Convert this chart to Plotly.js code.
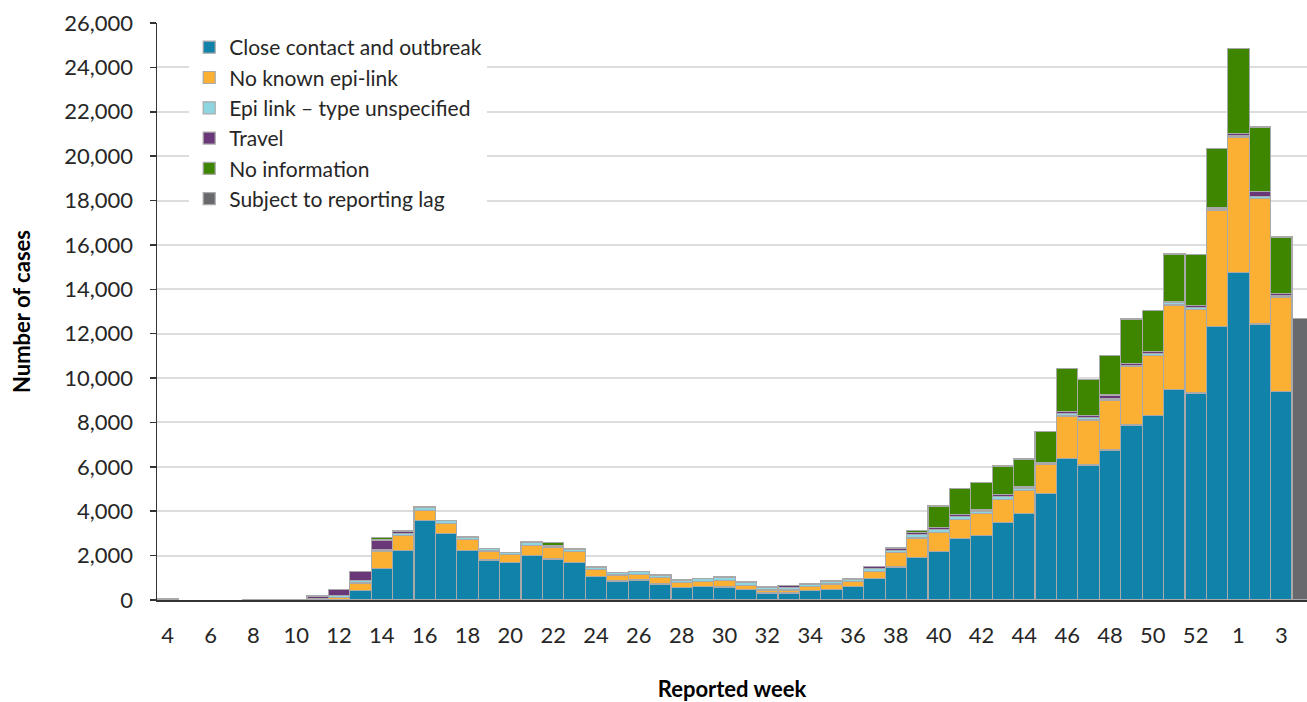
<!DOCTYPE html>
<html>
<head>
<meta charset="utf-8">
<script src="https://cdn.plot.ly/plotly-3.0.1.min.js"></script>
<style>html,body{margin:0;padding:0;background:#fff;}#chart{width:1307px;height:702px;}</style>
</head>
<body>
<div id="chart"></div>
<script>
// Reported weeks (last entry = week subject to reporting lag)
const weeks = [4,5,6,7,8,9,10,11,12,13,14,15,16,17,18,19,20,21,22,23,24,25,26,27,28,29,30,31,32,33,34,35,36,37,38,39,40,41,42,43,44,45,46,47,48,49,50,51,52,53,1,2,3,4];

const closeContact = [0,0,0,0,0,0,0,0,30,420,1430,2240,3570,2990,2240,1800,1700,2010,1850,1700,1050,860,900,720,555,615,586,480,315,315,420,466,616,960,1490,1925,2180,2765,2915,3500,3890,4810,6385,6080,6760,7885,8305,9495,9330,12330,14765,12435,9385,0];
const noKnownLink = [0,0,0,0,0,0,0,20,100,350,740,650,480,450,490,410,350,450,500,500,330,270,260,280,220,230,300,180,135,135,180,255,210,330,645,870,870,870,1000,1035,1050,1280,1910,2030,2250,2630,2730,3800,3760,5230,6100,5660,4235,0];
const epiUnspecified = [20,0,0,0,10,10,10,40,60,100,80,100,110,130,110,100,80,150,80,100,110,100,110,110,120,110,120,120,120,130,120,130,120,130,110,150,130,145,100,130,110,80,100,100,80,60,60,130,100,60,75,75,75,0];
const travel = [30,0,0,0,20,20,30,120,280,400,450,110,30,30,30,20,20,30,30,30,30,20,30,30,30,30,30,30,30,80,30,36,31,90,100,100,80,70,70,80,70,30,90,90,150,90,100,20,80,80,90,225,120,0];
const noInformation = [0,0,0,0,0,0,0,0,10,10,100,20,0,0,0,0,0,0,120,0,0,0,0,0,0,0,0,0,0,0,0,0,0,10,30,80,975,1170,1215,1290,1230,1380,1935,1650,1770,2000,1850,2150,2310,2660,3810,2915,2540,0];
const reportingLag = [0,0,0,0,0,0,0,0,0,0,0,0,0,0,0,0,0,0,0,0,0,0,0,0,0,0,0,0,0,0,0,0,0,0,0,0,0,0,0,0,0,0,0,0,0,0,0,0,0,0,0,0,0,12690];

const seriesNames = ["Close contact and outbreak","No known epi-link","Epi link \u2013 type unspecified","Travel","No information","Subject to reporting lag"];
const seriesValues = [closeContact, noKnownLink, epiUnspecified, travel, noInformation, reportingLag];
const seriesColors = ["#1182aa","#fbb034","#8dd5e0","#6a3779","#3f8600","#67696c"];

const xIdx = weeks.map((w, i) => i);
const FONT = "Lato, 'Open Sans', sans-serif";

const traces = seriesValues.map((vals, k) => ({
  type: "bar",
  name: seriesNames[k],
  x: xIdx,
  y: vals.map(v => (v === 0 ? null : v)),
  marker: { color: seriesColors[k], line: { color: "#a9a9a9", width: 1.2 } },
  hoverinfo: "skip"
}));

// label ticks every two weeks, tick marks at every bar boundary
const labelVals = xIdx.filter(i => i % 2 === 0 && i < weeks.length - 1);
const labelText = labelVals.map(i => String(weeks[i]));
const boundaryVals = weeks.map((w, i) => i - 0.5).concat([weeks.length - 0.5]);

const xRange = [-0.5, 53.2];

const layout = {
  width: 1307,
  height: 702,
  margin: { l: 157, r: 0, t: 23, b: 102 },
  paper_bgcolor: "#ffffff",
  plot_bgcolor: "#ffffff",
  barmode: "stack",
  bargap: 0,
  font: { family: FONT, size: 22, color: "#262626" },
  showlegend: true,
  legend: {
    x: 0.028, y: 0.993, xanchor: "left", yanchor: "top",
    bgcolor: "#ffffff", borderwidth: 0,
    traceorder: "normal",
    font: { family: FONT, size: 21, color: "#262626" },
    itemclick: false
  },
  xaxis: {
    range: xRange,
    tickmode: "array",
    tickvals: labelVals,
    ticktext: labelText,
    ticks: "",
    showgrid: false,
    zeroline: false,
    showline: true,
    linecolor: "#333333",
    linewidth: 1.5,
    ticklabelstandoff: 15,
    tickfont: { family: FONT, size: 22, color: "#262626" },
    title: { text: "Reported week", font: { family: FONT, size: 22, color: "#000000", weight: "bold" }, standoff: 36 },
    automargin: false,
    fixedrange: true
  },
  xaxis2: {
    range: xRange,
    overlaying: "x",
    anchor: "y",
    side: "bottom",
    tickmode: "array",
    tickvals: boundaryVals,
    ticks: "outside",
    ticklen: 9,
    tickwidth: 1.5,
    tickcolor: "#333333",
    showticklabels: false,
    showgrid: false,
    zeroline: false,
    showline: false,
    fixedrange: true
  },
  yaxis: {
    range: [0, 26000],
    tickmode: "linear",
    tick0: 0,
    dtick: 2000,
    tickformat: ",",
    ticks: "outside",
    ticklen: 6,
    tickwidth: 1.5,
    tickcolor: "#333333",
    showline: true,
    linecolor: "#333333",
    linewidth: 1.5,
    showgrid: true,
    gridcolor: "#dddddd",
    gridwidth: 2,
    zeroline: false,
    ticklabelstandoff: 12,
    tickfont: { family: FONT, size: 22, color: "#262626" },
    title: { text: "Number of cases", font: { family: FONT, size: 22, color: "#000000", weight: "bold" }, standoff: 27 },
    automargin: false,
    fixedrange: true
  }
};

Plotly.newPlot("chart", traces, layout, { displayModeBar: false, staticPlot: true });
</script>
</body>
</html>
